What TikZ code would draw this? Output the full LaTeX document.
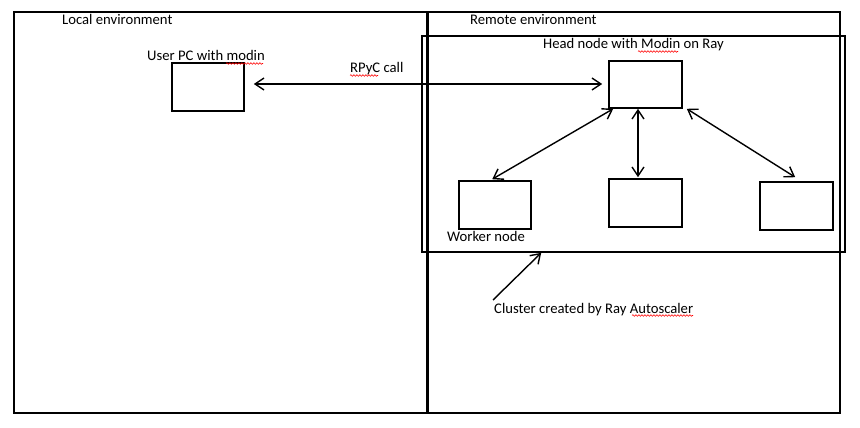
\documentclass[tikz,border=0pt]{standalone}
\usepackage{fontspec}
\setmainfont{Carlito}
\usetikzlibrary{arrows.meta,decorations.pathmorphing}
\begin{document}
\begin{tikzpicture}[x=1pt,y=-1pt,
  box/.style={draw,line width=1.6pt,inner sep=0pt,minimum width=73pt,minimum height=48pt},
  envbox/.style={draw,line width=1.6pt,inner sep=0pt},
  lbl/.style={inner sep=0pt,anchor=base west,font=\fontsize{14.67}{17.6}\selectfont},
  conn/.style={line width=1.4pt,{Straight Barb[length=9pt,width=12pt,line width=1.4pt]}-{Straight Barb[length=9pt,width=12pt,line width=1.4pt]}},
  oneway/.style={line width=1.4pt,-{Straight Barb[length=9pt,width=12pt,line width=1.4pt]}},
  spell/.style={red,line width=0.6pt,decorate,decoration={snake,segment length=3pt,amplitude=0.8pt}}]
\useasboundingbox (0,0) rectangle (860,428);
\fill[white] (0,0) rectangle (860,428);
% environments
\node[envbox,minimum width=413pt,minimum height=401pt] (local) at (220.5,212.5) {};
\node[envbox,minimum width=412pt,minimum height=401pt] (remote) at (634,212.5) {};
\node[envbox,minimum width=423pt,minimum height=216pt] (cluster) at (633.5,144) {};
% boxes
\node[box,minimum width=72pt] (pc) at (208,87) {};
\node[box,minimum height=47pt] (head) at (645.5,84.5) {};
\node[box,minimum width=72pt] (w1) at (495,205) {};
\node[box] (w2) at (645.5,203) {};
\node[box] (w3) at (796.5,206) {};
% labels
\node[lbl] (tlocal) at (62,25) {Local environment};
\node[lbl] (tremote) at (470,25) {Remote environment};
\node[lbl] (tpc) at (147,61) {User PC with modin};
\node[lbl] (trpyc) at (350,73) {RPyC call};
\node[lbl] (thead) at (543,49) {Head node with Modin on Ray};
\node[lbl] (twork) at (447,241) {Worker node};
\node[lbl] (tclus) at (494,313) {Cluster created by Ray Autoscaler};
\coordinate (cstart) at (493,300);
% spell-check underlines
\draw[spell] (226,63.5) -- (263,63.5);
\draw[spell] (350,75.5) -- (378,75.5);
\draw[spell] (638,51.5) -- (678,51.5);
\draw[spell] (632,315.5) -- (693,315.5);
% connectors
\draw[conn] ([shift={(9,-3)}]pc.east) -- ([shift={(-6,-0.5)}]head.west);
\draw[conn] ([shift={(5,0)}]head.south west) -- ([shift={(34,-1)}]w1.north west);
\draw[conn] ([shift={(-7.5,0)}]head.south) -- ([shift={(-7.5,-1)}]w2.north);
\draw[conn] ([shift={(4,0)}]head.south east) -- ([shift={(36,-4)}]w3.north west);
\draw[oneway] (cstart) -- ([shift={(120,0)}]cluster.south west);
\end{tikzpicture}
\end{document}
